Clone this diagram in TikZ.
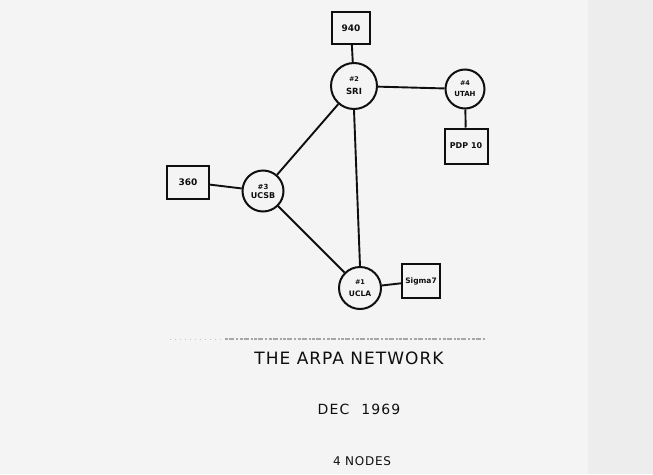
\documentclass[tikz,border=0pt]{standalone}
\usepackage{fontspec}
\setmainfont{DejaVu Sans}
\definecolor{paper}{RGB}{244,244,244}
\definecolor{paperedge}{RGB}{237,237,237}
\definecolor{ink}{RGB}{15,15,15}
\tikzset{
  x=1pt, y=-1pt,
  host/.style={circle, draw=ink, line width=2pt, inner sep=0pt, font=\fontsize{8.5}{9}\selectfont\bfseries, align=center, text=ink},
  comp/.style={rectangle, draw=ink, line width=2pt, inner sep=0pt, font=\fontsize{9}{10}\selectfont\bfseries, text=ink},
  link/.style={draw=ink, line width=1.9pt},
  caption/.style={font=\fontsize{17}{19}\selectfont\addfontfeatures{LetterSpace=6}, text=ink}
}
\begin{document}
\begin{tikzpicture}
\fill[paper] (0,0) rectangle (653,474);
\fill[paperedge] (588,0) rectangle (653,474);
\useasboundingbox (0,0) rectangle (653,474);
% hosts
\node[host, minimum size=46pt] (sri) at (354,86) {{\fontsize{6.5}{7}\selectfont\#2}\\[4pt]SRI};
\node[host, minimum size=39pt] (utah) at (465,89) {{\fontsize{6.5}{7}\selectfont\#4}\\[2pt]{\fontsize{7}{8}\selectfont UTAH}};
\node[host, minimum size=41pt] (ucsb) at (263,191) {{\fontsize{7}{7}\selectfont\#3}\\{\fontsize{8}{8}\selectfont UCSB}};
\node[host, minimum size=42pt] (ucla) at (360,288) {{\fontsize{6.5}{7}\selectfont\#1}\\[3pt]{\fontsize{7.5}{8}\selectfont UCLA}};
% computers
\node[comp, minimum width=38pt, minimum height=32pt] (c940) at (351,28) {940};
\node[comp, minimum width=43pt, minimum height=35pt, font=\fontsize{8}{9}\selectfont\bfseries] (pdp) at (466,146) {PDP 10};
\node[comp, minimum width=42pt, minimum height=33pt] (c360) at (188,182) {360};
\node[comp, minimum width=38pt, minimum height=34pt, font=\fontsize{7.5}{9}\selectfont\bfseries] (sig) at (421,281) {Sigma7};
% links
\draw[link] (c940) -- (sri);
\draw[link] (sri) -- (utah);
\draw[link] (utah) -- (pdp);
\draw[link] (sri) -- (ucsb);
\draw[link] (sri.south) -- (ucla.north);
\draw[link] (c360) -- (ucsb);
\draw[link] (ucsb) -- (ucla);
\draw[link] (ucla) -- (sig);
% faint copy line
\coordinate (dl) at (170,339);
\coordinate (dm) at (225,339);
\coordinate (dr) at (485,339);
\draw[gray!45, line width=1pt, dash pattern=on 1pt off 4pt] (dl) -- (dm);
\draw[gray!70, line width=1.6pt, dash pattern=on 3pt off 1pt on 5pt off 2pt on 2pt off 1.5pt] (dm) -- (dr);
% captions
\node[caption] (t1) at (349,358) {THE ARPA NETWORK};
\node[caption, font=\fontsize{14}{16}\selectfont\addfontfeatures{LetterSpace=8}] (t2) at (359,409) {DEC\hspace{12pt}1969};
\node[caption, font=\fontsize{12}{14}\selectfont\addfontfeatures{LetterSpace=6}] (t3) at (362,461) {4 NODES};
\end{tikzpicture}
\end{document}
